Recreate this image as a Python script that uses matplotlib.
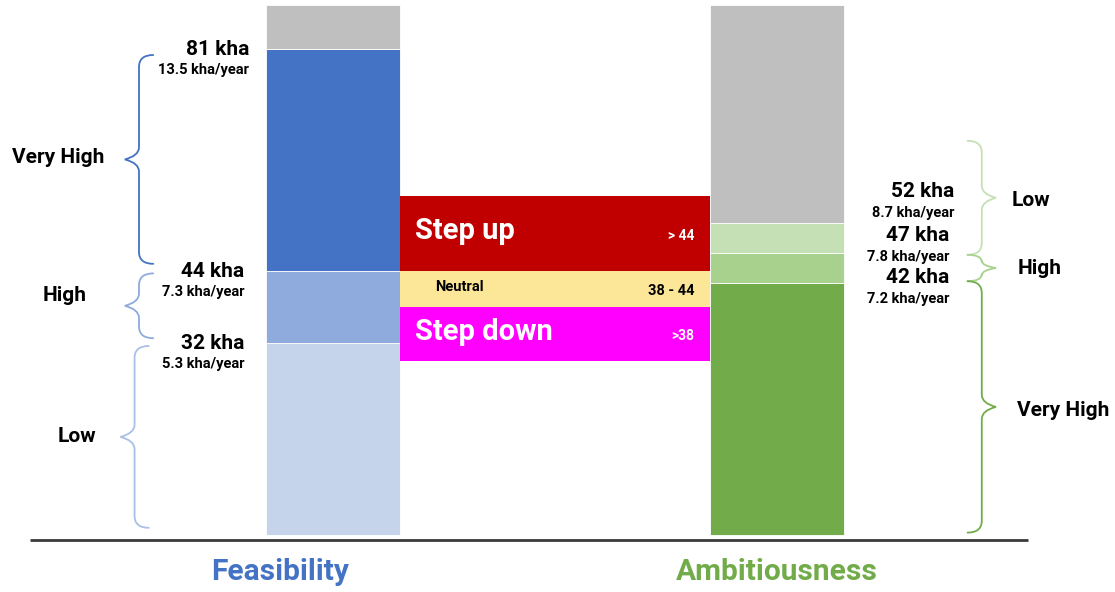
import numpy as np
import matplotlib.pyplot as plt
from matplotlib.path import Path
from matplotlib.patches import PathPatch

plt.rcParams['font.family'] = ['Roboto', 'DejaVu Sans']

# bar segments (kha): boundaries from the bottom up
categories = ["Feasibility", "Ambitiousness"]
feas_bounds = [0, 32, 44, 81, 88.3]
feas_colors = ["#c5d4eb", "#8faadc", "#4472c4", "#bfbfbf"]
amb_bounds = [0, 42, 47, 52, 88.3]
amb_colors = ["#72ac4a", "#a9d18e", "#c5e0b4", "#bfbfbf"]

# labelled thresholds
feas_kha = [81, 44, 32]
feas_rate = ["13.5 kha/year", "7.3 kha/year", "5.3 kha/year"]
amb_kha = [52, 47, 42]
amb_rate = ["8.7 kha/year", "7.8 kha/year", "7.2 kha/year"]
levels_feas = ["Very High", "High", "Low"]
levels_amb = ["Low", "High", "Very High"]

# step bands between the bars
band_names = ["Step up", "Neutral", "Step down"]
band_ranges = ["> 44", "38 - 44", ">38"]
band_bounds = [(44, 56.5), (38, 44), (29, 38)]
band_colors = ["#c00000", "#fce698", "#ff00ff"]

fig = plt.figure(figsize=(11.15, 5.92), dpi=100)
ax = fig.add_axes([0, 0, 1, 1])
ax.set_xlim(-0.75, 1.761)
ax.set_ylim(-9.5, 89.17)
ax.axis("off")

w = 0.302
xs = np.arange(len(categories))

for x, bounds, cols in [(xs[0], feas_bounds, feas_colors), (xs[1], amb_bounds, amb_colors)]:
    for lo, hi, c in zip(bounds[:-1], bounds[1:], cols):
        ax.bar(x, hi - lo, bottom=lo, width=w, color=c, edgecolor="white", linewidth=0.6)

# middle bands
x0, x1 = xs[0] + w / 2, xs[1] - w / 2
for (lo, hi), c in zip(band_bounds, band_colors):
    ax.fill_between([x0, x1], lo, hi, color=c, linewidth=0)

txt_col = ["white", "black", "white"]
name_size = [21, 10.5, 21]
range_size = [10, 10.5, 10]
for (lo, hi), name, rng, tc, ns, rs in zip(band_bounds, band_names, band_ranges,
                                          txt_col, name_size, range_size):
    ym = (lo + hi) / 2
    nx = x0 + 0.034 if ns > 15 else x0 + 0.079
    ax.text(nx, ym + 0.4, name, color=tc, fontsize=ns, fontweight="bold",
            ha="left", va="center")
    ax.text(x1 - 0.036, ym - 0.4, rng, color=tc, fontsize=rs, fontweight="bold",
            ha="right", va="center")

# baseline
ax.plot([-0.682, 1.565], [-0.8, -0.8], color="#3a3a3a", linewidth=2, solid_capstyle="butt")

# axis labels under each bar
ax.text(-0.12, -6.2, categories[0], color="#4472c4", fontsize=21.5, fontweight="bold",
        ha="center", va="center")
ax.text(xs[1], -6.2, categories[1], color="#72ac4a", fontsize=21.5, fontweight="bold",
        ha="center", va="center")

# threshold labels, left side
for i, (v, r) in enumerate(zip(feas_kha, feas_rate)):
    xr = -0.189 if i == 0 else -0.200
    ax.text(xr, v, f"{v} kha", fontsize=15, fontweight="bold", ha="right", va="center")
    ax.text(xr, v - 3.5, r, fontsize=10.5, fontweight="bold", ha="right", va="center")

# threshold labels, right side (stacked above each boundary)
amb_offset = [5.3, 3.0, 1.0]
for i, (v, r, off) in enumerate(zip(amb_kha, amb_rate, amb_offset)):
    xr = 1.399 if i == 0 else 1.388
    ax.text(xr, v + off, f"{v} kha", fontsize=15, fontweight="bold", ha="right", va="center")
    ax.text(xr, v + off - 3.6, r, fontsize=10.5, fontweight="bold", ha="right", va="center")


def brace(x, y0, y1, side, color, tip=0.032, curl=0.032, h=2.0, lw=1.3):
    """Curly brace along x from y0 (bottom) to y1 (top); side=-1 tip points left."""
    ym = (y0 + y1) / 2
    t = side * tip
    c = -side * curl
    verts = [
        (x + c, y1), (x, y1), (x, y1 - h),
        (x, ym + h),
        (x, ym + 0.3 * h), (x + t, ym),
        (x, ym - 0.3 * h), (x, ym - h),
        (x, y0 + h),
        (x, y0), (x + c, y0),
    ]
    codes = [Path.MOVETO, Path.CURVE3, Path.CURVE3,
             Path.LINETO,
             Path.CURVE3, Path.CURVE3,
             Path.CURVE3, Path.CURVE3,
             Path.LINETO,
             Path.CURVE3, Path.CURVE3]
    ax.add_patch(PathPatch(Path(verts, codes), facecolor="none", edgecolor=color,
                           linewidth=lw, capstyle="round"))


# left braces
bx_l = -0.437
brace(bx_l, feas_kha[1] + 1.2, feas_kha[0] - 1.0, -1, "#4472c4")
brace(bx_l, feas_kha[2] + 0.8, feas_kha[1] - 0.4, -1, "#8faadc")
brace(bx_l - 0.01, 1.2, feas_kha[2] - 0.5, -1, "#a9c0e6")

ax.text(-0.62, 63.0, levels_feas[0], fontsize=15, fontweight="bold", ha="center", va="center")
ax.text(-0.605, 40.0, levels_feas[1], fontsize=15, fontweight="bold", ha="center", va="center")
ax.text(-0.576, 16.5, levels_feas[2], fontsize=15, fontweight="bold", ha="center", va="center")

# right braces
bx_r = 1.461
brace(bx_r, amb_kha[1] - 0.3, 65.7, 1, "#c5e0b4")
brace(bx_r, amb_kha[2] + 0.3, amb_kha[1] - 0.3, 1, "#a9d18e", h=1.2)
brace(bx_r, 0.4, amb_kha[2] + 0.3, 1, "#72ac4a")

ax.text(1.528, 55.8, levels_amb[0], fontsize=15, fontweight="bold", ha="left", va="center")
ax.text(1.541, 44.5, levels_amb[1], fontsize=15, fontweight="bold", ha="left", va="center")
ax.text(1.541, 20.7, levels_amb[2], fontsize=15, fontweight="bold", ha="left", va="center")

fig.savefig("out.png", dpi=100)
